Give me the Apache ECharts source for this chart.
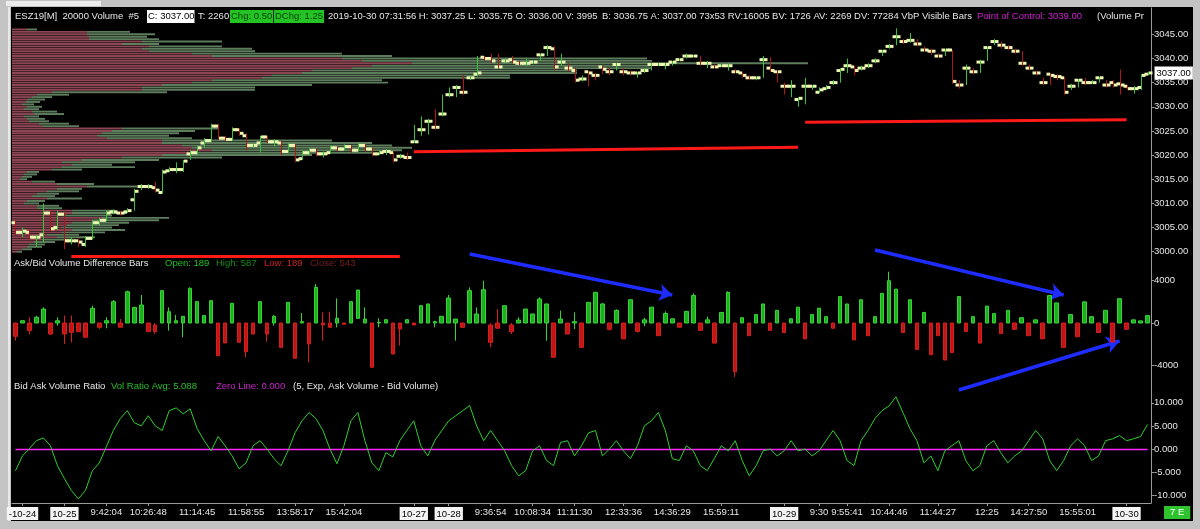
<!DOCTYPE html>
<html><head><meta charset="utf-8">
<script src="https://cdn.jsdelivr.net/npm/echarts@6/dist/echarts.min.js"></script>
<style>html,body{margin:0;padding:0;background:#c3c3c3}#c{width:1200px;height:529px}</style>
</head><body><div id="c"></div>
<script>
// ---------------- DATA ----------------
const priceTicks = [3000, 3005, 3010, 3015, 3020, 3025, 3030, 3035, 3040, 3045];
const deltaTicks = [-4000, 0, 4000];
const ratioTicks = [-10, -5, 0, 5, 10];
const tickIndex = [1, 7, 13, 19, 26, 33, 40, 47, 57, 62, 68, 74, 80, 87, 94, 101, 110, 115, 119, 125, 132, 139, 145, 152, 159];
const tickText = ['-10-24', '10-25', '9:42:04', '10:26:48', '11:14:45', '11:58:55', '13:58:17', '15:42:04', '10-27', '10-28', '9:36:54', '10:08:34', '11:11:30', '12:33:36', '14:36:29', '15:59:11', '10-29', '9:30', '9:55:41', '10:44:46', '11:44:27', '12:25', '14:27:50', '15:55:01', '10-30'];
const lastPrice = 3037.00;
const zeroLine = 0;

// price bars: [open, close, low, high]
const priceBars = [
[3006.0,3004.0,3003.5,3006.5],[3004.0,3004.25,3003.0,3005.0],[3004.0,3003.0,3002.5,3004.5],[3003.0,3003.0,3001.0,3003.5],[3003.5,3008.0,3002.0,3010.0],
[3008.0,3004.75,3004.25,3008.5],[3005.0,3007.75,3004.5,3008.5],[3007.75,3002.25,3000.5,3008.0],[3002.25,3002.25,3001.5,3003.0],[3002.25,3002.0,3001.0,3002.75],
[3001.5,3002.75,3001.0,3003.25],[3002.75,3006.0,3002.5,3006.5],[3006.0,3006.5,3005.5,3007.0],[3006.5,3008.0,3006.25,3008.5],[3008.25,3008.25,3007.75,3008.75],
[3008.0,3008.0,3007.5,3008.5],[3008.25,3008.5,3008.0,3009.0],[3010.75,3012.5,3008.5,3013.0],[3013.5,3013.5,3012.75,3014.0],[3013.5,3013.5,3013.0,3014.0],
[3013.25,3012.75,3012.25,3014.5],[3012.25,3016.5,3012.0,3017.0],[3016.75,3017.0,3016.5,3017.5],[3017.0,3017.0,3016.25,3018.5],[3017.0,3018.75,3016.5,3019.0],
[3020.25,3020.5,3019.0,3021.0],[3020.5,3021.5,3020.0,3022.0],[3022.5,3023.0,3021.5,3023.5],[3023.0,3026.0,3022.75,3026.5],[3026.0,3023.5,3023.25,3026.5],
[3023.5,3023.25,3023.0,3024.0],[3023.25,3025.25,3023.0,3025.75],[3025.25,3024.5,3024.0,3025.5],[3024.0,3022.0,3021.0,3024.5],[3022.0,3022.0,3021.5,3022.5],
[3022.5,3023.75,3020.5,3024.0],[3023.75,3022.75,3022.5,3024.0],[3022.75,3022.75,3021.75,3023.25],[3022.5,3020.75,3020.0,3023.0],[3020.75,3022.0,3020.5,3022.5],
[3022.0,3019.0,3018.5,3022.25],[3019.25,3020.5,3019.0,3021.0],[3020.5,3021.0,3020.0,3021.5],[3021.0,3020.25,3019.75,3021.25],[3020.25,3020.25,3019.5,3020.75],
[3020.5,3021.5,3020.25,3022.0],[3021.5,3021.25,3020.75,3021.75],[3021.25,3021.75,3021.0,3022.25],[3021.75,3021.0,3020.5,3022.0],[3021.0,3022.0,3020.75,3022.5],
[3022.0,3021.25,3020.75,3022.25],[3021.25,3020.25,3019.75,3021.5],[3020.25,3020.5,3020.0,3021.0],[3020.75,3020.75,3020.0,3021.25],[3020.5,3019.0,3018.5,3020.75],
[3019.75,3019.75,3019.25,3020.25],[3019.5,3019.5,3019.0,3020.5],[3022.75,3022.75,3022.5,3026.25],[3025.25,3025.25,3024.0,3028.0],[3027.0,3027.0,3024.25,3027.5],
[3025.75,3025.75,3025.25,3029.5],[3028.5,3028.5,3028.0,3032.5],[3032.5,3032.5,3032.0,3034.0],[3034.0,3034.0,3032.0,3034.5],[3033.0,3033.0,3032.5,3036.5],
[3036.0,3036.0,3035.5,3036.5],[3036.75,3037.0,3036.25,3040.5],[3040.25,3040.0,3039.5,3040.5],[3040.0,3039.5,3039.0,3041.0],[3038.25,3038.25,3038.0,3041.0],
[3039.5,3039.5,3039.0,3040.0],[3039.75,3039.25,3039.0,3040.5],[3039.0,3039.0,3038.75,3039.5],[3039.0,3039.0,3038.5,3040.0],[3039.25,3039.25,3039.0,3039.5],
[3040.75,3040.75,3039.5,3041.0],[3042.25,3042.25,3040.5,3042.75],[3042.0,3038.25,3037.5,3042.5],[3039.25,3039.25,3038.5,3041.0],[3038.0,3038.0,3037.25,3039.0],
[3037.5,3035.5,3035.0,3038.0],[3035.75,3035.75,3035.25,3036.5],[3037.25,3037.0,3034.25,3037.5],[3036.5,3036.5,3035.5,3037.0],[3038.25,3037.75,3036.75,3038.5],
[3037.25,3037.25,3036.5,3038.0],[3038.75,3038.75,3037.5,3039.0],[3037.25,3037.25,3036.5,3038.0],[3037.0,3037.0,3036.5,3037.5],[3037.0,3037.0,3036.0,3037.25],
[3037.5,3037.5,3037.0,3038.0],[3038.75,3038.75,3037.5,3039.0],[3038.75,3038.75,3038.5,3039.0],[3038.75,3038.75,3037.75,3039.0],[3039.25,3039.25,3038.5,3039.5],
[3039.75,3039.75,3039.5,3040.0],[3040.5,3040.5,3040.0,3041.0],[3040.5,3040.5,3040.25,3040.75],[3039.0,3039.0,3038.5,3040.5],[3039.0,3039.0,3038.0,3039.5],
[3038.25,3038.25,3038.0,3038.75],[3038.5,3038.5,3038.25,3038.75],[3038.5,3038.5,3037.5,3039.0],[3037.25,3037.25,3037.0,3037.75],[3037.0,3036.5,3036.0,3037.25],
[3036.0,3036.0,3035.5,3036.5],[3036.0,3036.0,3035.5,3036.25],[3039.75,3039.75,3036.0,3040.5],[3038.0,3037.5,3037.25,3040.25],[3037.25,3037.25,3035.0,3037.5],
[3034.25,3034.25,3032.5,3035.0],[3034.25,3034.25,3032.0,3035.5],[3031.5,3031.75,3030.0,3032.0],[3034.25,3034.25,3030.5,3036.0],[3034.25,3034.25,3033.5,3034.5],
[3033.0,3033.5,3032.75,3034.0],[3033.75,3034.0,3033.5,3034.5],[3035.0,3035.0,3034.5,3035.5],[3037.5,3037.75,3035.0,3038.0],[3038.5,3038.5,3037.0,3040.0],
[3038.25,3037.5,3036.5,3038.5],[3038.0,3038.0,3037.5,3038.5],[3038.5,3038.5,3038.0,3039.0],[3039.5,3039.5,3039.0,3040.0],[3041.5,3041.5,3040.5,3041.75],
[3042.5,3042.5,3042.0,3043.0],[3044.5,3044.5,3042.75,3046.25],[3043.5,3043.5,3043.0,3044.0],[3043.75,3043.75,3043.25,3045.25],[3043.0,3043.0,3042.5,3044.0],
[3041.75,3041.75,3041.5,3042.5],[3041.5,3041.5,3040.75,3042.0],[3040.5,3040.5,3040.25,3041.0],[3041.75,3041.75,3040.5,3042.0],[3041.75,3035.25,3034.75,3041.75],
[3034.5,3034.5,3033.75,3035.5],[3038.0,3038.0,3034.5,3038.75],[3037.25,3037.25,3036.75,3038.0],[3039.25,3039.25,3037.0,3039.75],[3042.25,3042.25,3039.5,3042.5],
[3043.5,3043.5,3042.75,3044.0],[3042.75,3042.75,3042.0,3043.5],[3042.25,3042.25,3041.75,3042.75],[3041.5,3041.5,3041.0,3042.0],[3039.0,3039.0,3038.5,3041.5],
[3038.0,3038.0,3037.5,3038.75],[3037.0,3037.0,3036.5,3037.5],[3035.0,3035.0,3034.5,3036.0],[3036.75,3036.5,3034.5,3037.0],[3036.25,3036.25,3035.5,3036.75],
[3036.0,3033.0,3032.5,3036.25],[3034.25,3034.25,3033.5,3034.75],[3035.5,3035.5,3034.0,3035.75],[3035.0,3035.0,3034.5,3036.0],[3035.0,3035.0,3034.75,3035.5],
[3036.0,3036.0,3035.0,3036.25],[3034.5,3034.5,3034.0,3035.5],[3035.0,3034.5,3034.0,3035.5],[3034.75,3034.5,3032.5,3037.75],[3034.25,3033.75,3033.5,3034.5],
[3033.75,3033.75,3032.75,3034.25],[3034.0,3036.5,3033.5,3036.75],[3036.75,3037.0,3036.5,3037.25]
];

// ask/bid volume difference bars: [open, close, low, high]
const deltaBars = [
[0,-1260,-1670,0],[0,220,0,250],[0,-720,-1040,540],[0,540,0,690],[0,1320,0,1480],
[0,-1040,-1130,0],[0,220,-250,540],[0,-1040,-1980,700],[0,-880,-1830,700],[0,-820,-820,0],
[0,-1350,-1350,0],[0,1390,0,1640],[0,-410,-570,0],[0,220,-500,540],[0,2020,0,2170],
[0,-400,-400,380],[0,2960,0,3060],[0,1480,0,1480],[0,1700,0,2650],[0,-820,-820,0],
[-190,-820,-1040,0],[0,3060,0,3060],[0,1070,-720,1480],[0,220,0,760],[0,630,-1350,630],
[0,3280,0,3370],[0,2020,0,2020],[0,700,0,700],[0,2110,0,2110],[0,-3090,-3090,0],
[0,-1890,-1890,0],[0,1860,0,1860],[0,-1830,-1830,0],[0,-2710,-3240,0],[0,-1040,-1040,0],
[0,2020,0,2020],[0,-1040,-1770,0],[0,630,-250,760],[0,-2300,-2300,0],[0,1950,0,1950],
[0,-3340,-3340,0],[0,130,0,950],[0,-1980,-3720,0],[0,3370,0,3690],[0,-190,-1670,1010],
[0,-410,-410,1070],[0,440,-410,2330],[0,-120,-120,0],[0,2020,0,2020],[440,3120,440,3120],
[0,380,0,1480],[0,-4190,-4190,0],[0,60,-410,440],[0,315,0,315],[0,-2930,-2930,0],
[0,-570,-2140,0],[0,315,0,315],[0,-190,-190,0],[0,1640,0,1640],[0,1800,0,1800],
[0,130,-410,220],[0,630,0,630],[0,2360,0,2650],[0,380,-1670,380],[0,-410,-410,0],
[0,3060,0,3370],[0,850,0,1480],[0,3150,0,4000],[-190,-1830,-2300,0],[0,-500,-500,1320],
[0,1640,0,1640],[-190,-820,-1040,0],[0,280,0,540],[0,1320,0,1320],[0,850,0,850],
[0,2270,0,2430],[0,1800,-1670,1800],[0,-3240,-3240,0],[0,380,0,1170],[0,-1040,-1040,0],
[0,130,-570,1010],[0,-2300,-2300,0],[0,1950,0,1950],[0,2900,0,2900],[0,1800,0,1900],
[0,-600,-700,0],[0,1200,0,1300],[0,-1500,-1500,0],[0,2200,0,2200],[0,-800,-900,0],
[0,300,-300,500],[0,1500,0,1500],[0,-1200,-1200,0],[0,900,0,1100],[0,400,0,400],
[0,-400,-400,0],[0,1100,0,1100],[0,2600,0,2800],[0,-700,-700,0],[0,300,0,600],
[0,-1900,-1900,0],[0,1000,0,1000],[0,2900,0,3000],[0,-4600,-5100,0],[0,500,0,500],
[0,-1200,-1200,0],[0,800,0,800],[0,1800,0,1800],[0,-700,-700,0],[0,1200,0,1200],
[0,-900,-900,0],[0,400,0,400],[0,1500,0,1500],[0,-1500,-1500,0],[0,800,0,800],
[0,1400,0,1400],[0,600,0,600],[0,-500,-500,0],[0,2500,0,2500],[0,1800,0,1800],
[0,-1600,-1600,0],[0,2200,0,2200],[0,-1200,-1200,0],[0,600,0,600],[0,2800,0,2800],
[0,4000,0,4850],[0,3200,0,3200],[0,-900,-900,0],[0,2200,0,2200],[0,-2500,-2500,0],
[0,1000,0,1000],[0,-3000,-3000,0],[0,-1200,-1200,0],[0,-3500,-3500,0],[0,-2800,-2800,0],
[0,2500,0,2500],[0,-800,-800,0],[0,600,0,600],[0,-1900,-1900,0],[0,1600,0,1600],
[0,900,0,900],[0,-1000,-1000,0],[0,1200,0,1200],[0,-600,-600,0],[0,500,0,500],
[0,-1200,-1200,0],[0,300,0,300],[0,-1500,-1500,0],[0,2600,0,2600],[0,1900,0,1900],
[0,-2300,-2300,0],[0,800,0,800],[0,-1300,-1300,0],[0,2000,0,2000],[0,600,0,600],
[0,-900,-900,0],[0,1200,0,1200],[0,-1800,-1800,0],[0,2300,0,2300],[0,-600,-600,0],
[0,300,0,300],[0,200,0,200],[0,700,0,700]
];

// bid ask volume ratio
const ratio = [
-4.7,-1.5,0.1,1.8,2.4,0.7,-3.6,-6.4,-9.0,-10.8,
-9.0,-4.7,-3.0,0.5,4.0,6.6,8.3,5.7,5.0,7.2,
5.0,4.0,8.3,8.9,7.6,8.7,4.4,1.8,-0.4,2.7,
0.7,-1.5,-4.3,-3.0,0.7,1.8,0,-2.1,-3.6,-0.4,
3.5,6.1,7.9,6.6,4.0,0,-3.2,0.7,6.1,7.9,
1.8,-3.0,-4.7,-0.8,-1.7,1.8,4.0,6.1,0.7,-1.5,
1.8,4.0,6.1,7.2,8.3,9.4,5.0,1.8,4.0,1.8,
-0.4,-3.6,-5.8,-4.7,-0.4,0.7,-2.5,-3.6,1.4,1.8,
-1.5,0.7,3.5,4.0,-1.5,0,1.8,-0.4,-2.1,0.7,
5.0,6.1,7.9,4.0,-2.1,-2.5,0.7,-0.4,-3.6,-4.7,
-2.1,0.7,-0.4,1.8,-2.5,-5.8,-3.6,-0.4,0,-1.5,
-0.4,1.8,-0.4,0,-1.5,-0.4,1.8,4.0,1.8,-2.5,
-3.6,1.8,4.0,6.6,8.3,9.3,11.3,7.9,4.4,1.8,
-3.0,-1.5,-4.7,-0.4,0.7,1.8,-2.5,-4.7,-3.6,0.7,
1.8,-0.8,-3.0,-1.5,-0.4,1.8,4.0,2.2,-2.5,-4.7,
-2.5,0.7,2.2,0.7,-2.5,-1.5,1.8,2.2,2.9,1.8,
2.2,2.7,5.3
];

// volume profile: [price, bid volume, ask volume]
const profile = [
[3046.0,150,100],[3045.5,750,430],[3045.0,750,680],[3044.5,770,580],[3044.0,770,700],
[3043.5,1300,800],[3043.0,1100,370],[3042.5,1370,730],[3042.0,1300,1100],[3041.5,1370,1060],
[3041.0,1800,1500],[3040.5,2000,1800],[3040.0,3300,3050],[3039.5,3500,2900],[3039.0,4000,3960],
[3038.5,3600,2780],[3038.0,3400,3000],[3037.5,3000,2650],[3037.0,2900,2750],[3036.5,2600,2380],
[3036.0,2500,2480],[3035.5,2000,1700],[3035.0,1800,1960],[3034.5,1500,1500],[3034.0,1300,1130],
[3033.5,1300,1130],[3033.0,400,1150],[3032.5,250,320],[3032.0,200,200],[3031.5,150,180],
[3031.0,140,140],[3030.5,100,120],[3030.0,150,150],[3029.5,120,150],[3029.0,200,250],
[3028.5,220,300],[3028.0,120,150],[3027.5,150,180],[3027.0,170,200],[3026.5,270,300],
[3026.0,300,370],[3025.5,1100,970],[3025.0,1000,830],[3024.5,900,770],[3024.0,850,720],
[3023.5,950,850],[3023.0,1500,1700],[3022.5,1500,2100],[3022.0,1700,2100],[3021.5,1800,2200],
[3021.0,2000,1900],[3020.5,1800,1800],[3020.0,1500,1500],[3019.5,1100,1000],[3019.0,700,770],
[3018.5,500,730],[3018.0,600,400],[3017.5,500,730],[3017.0,400,300],[3016.5,150,120],
[3016.0,120,130],[3015.5,100,100],[3015.0,80,70],[3014.5,200,230],[3014.0,450,370],
[3013.5,750,500],[3013.0,450,250],[3012.5,350,320],[3012.0,250,220],[3011.5,200,230],
[3011.0,350,350],[3010.5,150,180],[3010.0,120,150],[3009.5,250,220],[3009.0,250,250],
[3008.5,600,430],[3008.0,600,550],[3007.5,500,500],[3007.0,900,670],[3006.5,800,670],
[3006.0,600,570],[3005.5,550,520],[3005.0,500,500],[3004.5,600,530],[3004.0,500,430],
[3003.5,350,320],[3003.0,450,380],[3002.5,300,300],[3002.0,220,210],[3001.5,170,160],
[3001.0,150,150],[3000.5,100,100],[3000.0,50,50]
];

// support lines drawn on the price panel: [[barIndex, price], [barIndex, price]]
const supportLines = [
  [[8, 2999.0], [55, 2999.0]],
  [[57, 3020.7], [112, 3021.6]],
  [[113, 3026.8], [159, 3027.3]]
];
// annotation arrows in the volume-difference panel: [[barIndex, value], [barIndex, value]]
const arrows = [
  [[64.75, 6525], [93.5, 2648]],
  [[123.4, 6903], [150.3, 2648]],
  [[134.7, -6336], [157.8, -1702]]
];

// ---------------- CHART ----------------
const FONT = '"Liberation Sans", Arial, Helvetica, sans-serif';
const FS = 9.5;
const cats = priceBars.map((_, i) => String(i));
const lastIdx = priceBars.length - 1;
const labelMap = {};
tickIndex.forEach((idx, k) => { labelMap[idx] = tickText[k]; });
const showTick = (i) => labelMap[i] !== undefined;

const GL = 12, GW = 1139;
const chart = echarts.init(document.getElementById('c'), null, { renderer: 'canvas' });

function txt(text, x, y, fill, extra) {
  return {
    type: 'text', x: x, y: y, z: 100, silent: true,
    style: Object.assign({ text: text, fill: fill, font: FS + 'px ' + FONT, verticalAlign: 'middle', align: 'left' }, extra || {})
  };
}
const W = '#e6e6e6';
const graphics = [
  { type: 'rect', z: -10, silent: true, shape: { x: 11, y: 7, width: 1182, height: 514 }, style: { fill: '#000' } },
  { type: 'rect', z: -10, silent: true, shape: { x: 6, y: 1, width: 95, height: 5 }, style: { fill: '#ececec' } },
  { type: 'rect', z: -10, silent: true, shape: { x: 8, y: 7, width: 2, height: 514 }, style: { fill: '#e8e8e8' } },
  txt('ESZ19[M]  20000 Volume  #5', 15, 16.5, W),
  txt('C: 3037.00', 147, 16.5, '#000', { backgroundColor: '#ffffff', padding: [2, 0, 1, 1] }),
  txt('T: 2260', 198, 16.5, W),
  txt('Chg: 0.50', 230, 16.5, '#0b3d0b', { backgroundColor: '#22c322', padding: [2, 1, 1, 1] }),
  txt('DChg: 1.25', 274, 16.5, '#0b3d0b', { backgroundColor: '#22c322', padding: [2, 1, 1, 1] }),
  txt('2019-10-30 07:31:56 H: 3037.25 L: 3035.75 O: 3036.00 V: 3995', 328, 16.5, W),
  txt('B: 3036.75 A: 3037.00 73x53 RV:16005 BV: 1726 AV: 2269 DV: 77284 VbP Visible Bars', 602, 16.5, W),
  txt('Point of Control: 3039.00', 977, 16.5, '#d41ed4'),
  txt('(Volume Pr', 1097, 16.5, W),
  txt('Ask/Bid Volume Difference Bars', 14, 263, W),
  txt('Open: 189', 165, 263, '#22c322'),
  txt('High: 587', 216, 263, '#1b8a1b'),
  txt('Low: 189', 264, 263, '#cc2222'),
  txt('Close: 543', 310, 263, '#7c1c22'),
  txt('Bid Ask Volume Ratio', 14, 386, W),
  txt('Vol Ratio Avg: 5.088', 111, 386, '#2ac02a'),
  txt('Zero Line: 0.000', 216, 386, '#cc22cc'),
  txt('(5, Exp, Ask Volume - Bid Volume)', 293, 386, W),
  txt('7 E', 1164, 512.5, '#ffffff', { backgroundColor: '#2fc42f', padding: [2, 6, 1, 6] })
];

const axisGray = '#9a9a9a';
function yAxisCommon(gridIndex, min, max, ticks, fmt) {
  return {
    type: 'value', gridIndex: gridIndex, position: 'right', min: min, max: max, scale: false,
    axisLine: { show: true, onZero: false, lineStyle: { color: axisGray, width: 1 } },
    axisTick: { show: true, inside: false, length: 3, customValues: ticks, lineStyle: { color: axisGray } },
    axisLabel: { show: true, customValues: ticks, formatter: fmt, color: W, fontSize: FS, fontFamily: FONT, margin: 3, hideOverlap: false },
    splitLine: { show: false }
  };
}

const option = {
  backgroundColor: '#c3c3c3',
  animation: false,
  textStyle: { fontFamily: FONT },
  graphic: graphics,
  grid: [
    { left: GL, width: GW, top: 8, height: 250, outerBoundsMode: 'none', containLabel: false },
    { left: GL, width: GW, top: 240, height: 160, outerBoundsMode: 'none', containLabel: false },
    { left: GL, width: GW, top: 380, height: 123, outerBoundsMode: 'none', containLabel: false }
  ],
  xAxis: [
    { type: 'category', gridIndex: 0, data: cats, boundaryGap: true, show: false },
    { type: 'category', gridIndex: 1, data: cats, boundaryGap: true, show: false },
    {
      type: 'category', gridIndex: 2, data: cats, boundaryGap: true, position: 'bottom',
      axisLine: { show: true, onZero: false, lineStyle: { color: axisGray } },
      axisTick: { show: true, interval: showTick, alignWithLabel: true, length: 3, lineStyle: { color: axisGray } },
      axisLabel: {
        interval: showTick, margin: 4, hideOverlap: false, color: W, fontSize: FS, fontFamily: FONT,
        formatter: (v, i) => {
          const t = labelMap[i];
          if (t === undefined) return '';
          return (t.indexOf(':') < 0 ? '{d|' : '{t|') + t + '}';
        },
        rich: {
          d: { color: '#000', backgroundColor: '#f4f4f4', padding: [2, 2, 1, 2], fontSize: FS, fontFamily: FONT },
          t: { color: W, fontSize: FS, fontFamily: FONT }
        }
      },
      splitLine: { show: false }
    },
    { type: 'value', gridIndex: 0, min: 0, max: 11390, show: false }
  ],
  yAxis: [
    yAxisCommon(0, 2998.696, 3050.445, priceTicks, (v) => v.toFixed(2)),
    yAxisCommon(1, -7281, 7849, deltaTicks, (v) => String(v)),
    yAxisCommon(2, -11.688, 14.935, ratioTicks, (v) => v.toFixed(3))
  ],
  series: [
    {
      type: 'custom', name: 'profile', xAxisIndex: 3, yAxisIndex: 0, z: 1,
      data: profile, encode: { x: [1, 2], y: 0 },
      renderItem: (params, api) => {
        const p = api.value(0), b = api.value(1), a = api.value(2);
        const p0 = api.coord([0, p]), pB = api.coord([b, p]), pT = api.coord([b + a, p]);
        const h = api.size([0, 0.4])[1];
        return {
          type: 'group', children: [
            { type: 'rect', shape: { x: p0[0], y: p0[1] - h / 2, width: pB[0] - p0[0], height: h }, style: { fill: '#8c4653' } },
            { type: 'rect', shape: { x: pB[0], y: p0[1] - h / 2, width: pT[0] - pB[0], height: h }, style: { fill: '#5d7d5d' } }
          ]
        };
      }
    },
    {
      type: 'custom', name: 'price', xAxisIndex: 0, yAxisIndex: 0, z: 5,
      data: priceBars.map((b, i) => [i, b[0], b[1], b[2], b[3]]),
      encode: { x: 0, y: [1, 2, 3, 4] },
      renderItem: (params, api) => {
        const i = api.value(0), o = api.value(1), c = api.value(2), l = api.value(3), h = api.value(4);
        const prev = params.dataIndex > 0 ? priceBars[params.dataIndex - 1][1] : c;
        const up = c > o || (c === o && c >= prev);
        const pH = api.coord([i, h]), pL = api.coord([i, l]), pO = api.coord([i, o]), pC = api.coord([i, c]);
        const x = Math.round(pH[0]) + 0.5;
        return {
          type: 'group', children: [
            { type: 'line', shape: { x1: x, y1: pH[1], x2: x, y2: pL[1] }, style: { stroke: up ? '#37c437' : '#b01616', lineWidth: 1 } },
            { type: 'rect', shape: { x: x - 4, y: pO[1] - 1.5, width: 3.5, height: 3 }, style: { fill: '#eef6b4' } },
            { type: 'rect', shape: { x: x + 0.5, y: pC[1] - 1.5, width: 3.5, height: 3 }, style: { fill: '#eef6b4' } }
          ]
        };
      }
    },
    {
      // last-price tag on the price scale
      type: 'line', name: 'last', xAxisIndex: 0, yAxisIndex: 0, z: 30, data: [], symbol: 'none',
      markLine: {
        silent: true, symbol: 'none', lineStyle: { color: 'rgba(0,0,0,0)', width: 1, type: 'solid' },
        label: {
          show: true, position: 'end', distance: 7, formatter: lastPrice.toFixed(2), opacity: 1,
          color: '#000', backgroundColor: '#ffffff', padding: [2, 2, 1, 2], fontSize: FS, fontFamily: FONT
        },
        data: [[{ coord: [0, lastPrice] }, { coord: [lastIdx, lastPrice] }]]
      }
    }
  ].concat(supportLines.map((seg) => ({
    type: 'line', xAxisIndex: 0, yAxisIndex: 0, z: 6, data: seg, symbol: 'none', clip: false,
    lineStyle: { color: '#ff1a1a', width: 3 }
  }))).concat([
    {
      type: 'candlestick', name: 'delta', xAxisIndex: 1, yAxisIndex: 1, z: 5,
      data: deltaBars, barWidth: 4,
      itemStyle: { color: '#1fae1f', color0: '#bf1515', borderColor: '#35d535', borderColor0: '#d81e1e', borderWidth: 1 }
    },
    {
      type: 'line', name: 'arrows', xAxisIndex: 1, yAxisIndex: 1, z: 20, data: [],
      markLine: {
        silent: true, symbol: ['none', 'arrow'], symbolSize: 13, precision: 2,
        lineStyle: { color: '#1e2cff', width: 3.5, type: 'solid' },
        label: { show: false },
        data: arrows.map((a) => [{ coord: a[0] }, { coord: a[1] }])
      }
    },
    {
      type: 'line', name: 'zero', xAxisIndex: 2, yAxisIndex: 2, z: 4, data: [], symbol: 'none',
      markLine: {
        silent: true, symbol: 'none', label: { show: false },
        lineStyle: { color: '#ff26ff', width: 1.3, type: 'solid', opacity: 1 },
        data: [[{ coord: [0, zeroLine] }, { coord: [lastIdx, zeroLine] }]]
      }
    },
    {
      type: 'line', name: 'ratio', xAxisIndex: 2, yAxisIndex: 2, z: 5,
      data: ratio, symbol: 'none',
      lineStyle: { color: '#2fcf2f', width: 1 }
    }
  ])
};
chart.setOption(option);
</script>
</body></html>
